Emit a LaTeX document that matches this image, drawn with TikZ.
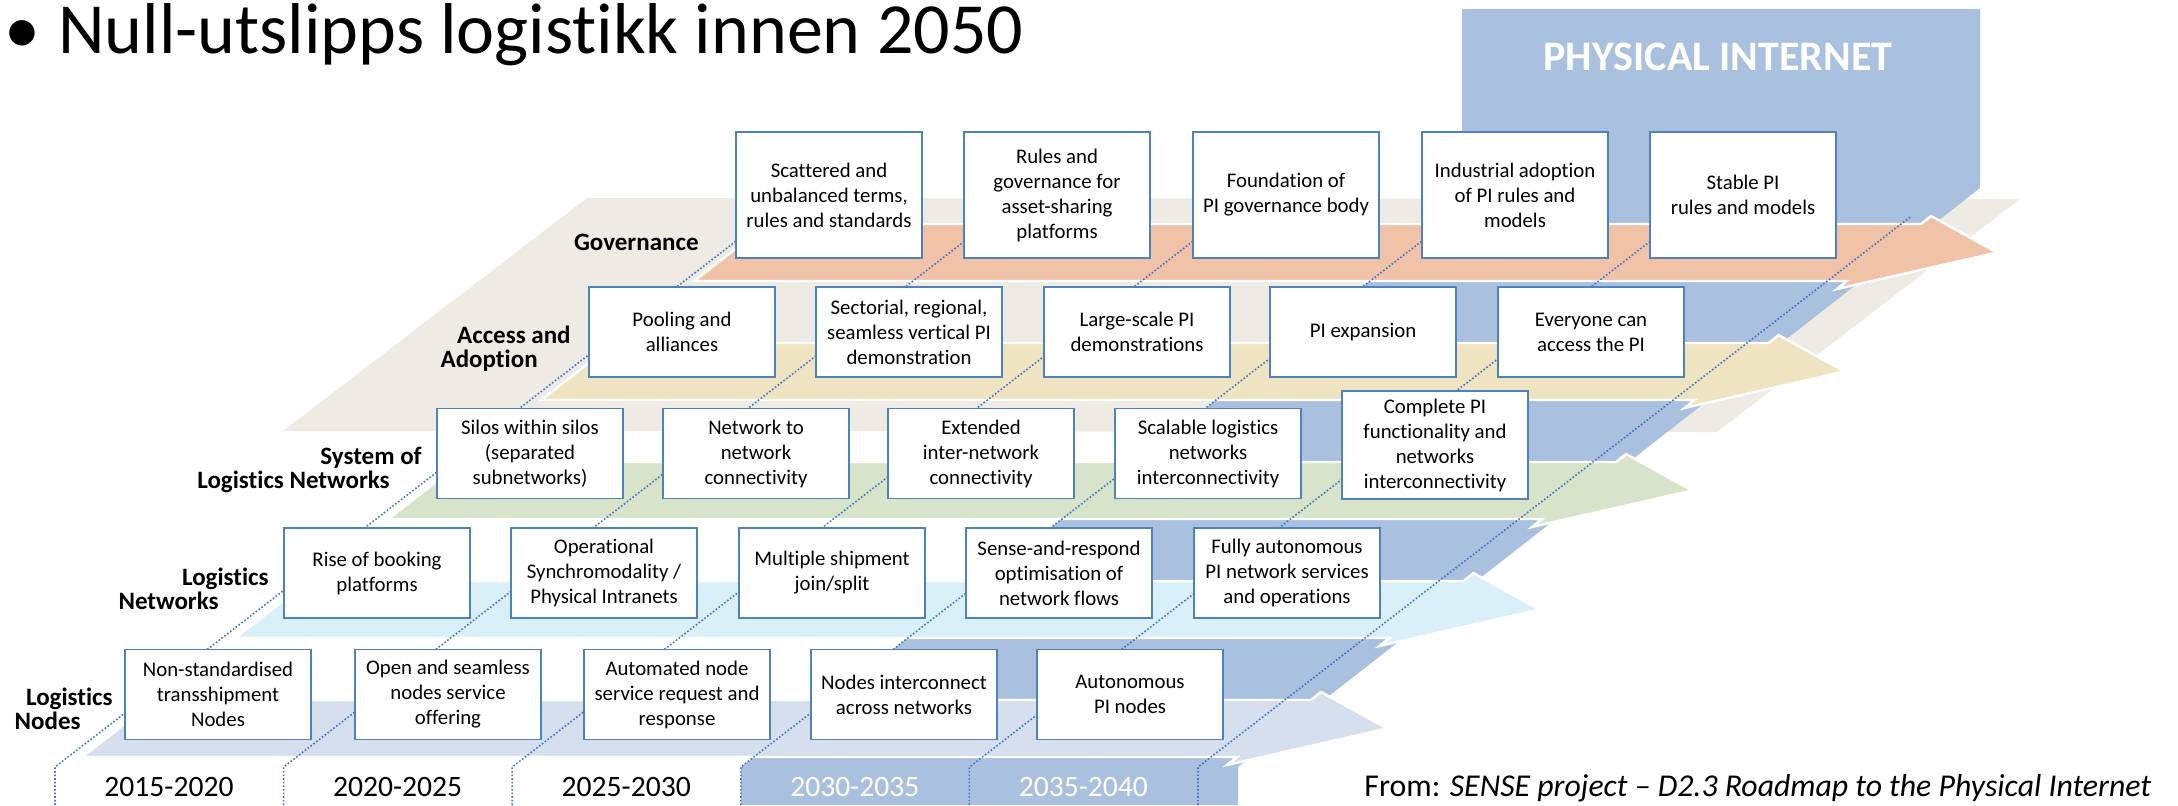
\documentclass[tikz,border=0pt]{standalone}
\usepackage{fontspec}
\setmainfont{Carlito}[Ligatures=NoCommon]
\definecolor{pibluecol}{HTML}{A9C0DE}
\definecolor{planecol}{HTML}{EDEBE3}
\definecolor{govcol}{HTML}{F0C2A7}
\definecolor{acccol}{HTML}{EEE4C1}
\definecolor{syscol}{HTML}{D7E4C9}
\definecolor{netcol}{HTML}{DAF0F8}
\definecolor{nodecol}{HTML}{D5DFEE}
\definecolor{boxcol}{HTML}{4F81BD}
\definecolor{dotcol}{HTML}{4472C4}
\newcommand{\rdboxfont}{\fontsize{10.4}{12.5}\selectfont}
\newcommand{\rdlabelfont}{\fontsize{12.5}{12}\selectfont\bfseries}
\newcommand{\rdyearfont}{\fontsize{14.8}{17}\selectfont}
\tikzset{%
  pibox/.style={draw=boxcol, line width=0.75pt, fill=white, align=center,
    minimum width=93pt, minimum height=45pt, inner sep=1pt, font=\rdboxfont},
  layerlabel/.style={font=\rdlabelfont, align=right, inner sep=0pt, anchor=east},
  yearlabel/.style={font=\rdyearfont, inner sep=0pt},
  sepline/.style={dotcol, densely dotted, line width=0.8pt},
}

\begin{document}
\begin{tikzpicture}[x=0.5pt,y=-0.5pt]
\useasboundingbox (0,0) rectangle (2178,805);
\node[anchor=base west, inner sep=0pt, font=\fontsize{36}{40}\selectfont] (title) at (4,53) {\makebox[27pt][l]{•}Null-utslipps logistikk innen 2050};
% grey plane and the physical internet column
\path[fill=planecol] (587,198) -- (2020,199) -- (1717,432) -- (283,431) -- cycle;
\path[fill=pibluecol] (741,805) -- (741,767) -- (1462,210) -- (1462,9) -- (1980,9) -- (1980,188) -- (1238,767) -- (1238,805) -- cycle;
\node[font=\fontsize{21}{25}\selectfont\bfseries, text=white] (pi) at (1718,57) {PHYSICAL INTERNET};
% layer arrows, front layer first
\foreach \k/\col in {0/nodecol,1/netcol,2/syscol,3/acccol,4/govcol}{
  \pgfmathsetmacro{\yb}{700-119*\k}
  \pgfmathsetmacro{\xl}{82+153*\k}
  \pgfmathsetmacro{\xb}{1311+152.5*\k}
  \path[fill=\col, draw=white, line width=1.2pt] ({\xl+74},\yb) -- (\xb,\yb) -- ({\xb+10},{\yb-8})
    -- ({\xb+76},{\yb+28.5}) -- ({\xb-84},{\yb+65}) -- ({\xb-74},{\yb+57}) -- (\xl,{\yb+57}) -- cycle;
}
% dotted column lines
\foreach \i in {0,...,5}
  \draw[sepline] ({55+228.6*\i},805) -- ({55+228.6*\i},767) -- ({55+228.6*\i+713.5},216);
\foreach \t/\c [count=\i from 0] in {2015-2020/black,2020-2025/black,2025-2030/black,2030-2035/white,2035-2040/white}
  \node[yearlabel, text=\c] (yr\i) at ({169+228.6*\i},787) {\t};
% layer names
\node[layerlabel] (govlabel) at (699,242) {Governance};
\node[layerlabel] (acclabel) at (538,349) {Access and\kern-16.5pt\\Adoption};
\node[layerlabel] (syslabel) at (390,469.5) {System of\kern-16pt\\Logistics Networks};
\node[layerlabel] (netlabel) at (219,588.5) {Logistics\kern-25pt\\Networks};
\node[layerlabel] (nodelabel) at (81,708.5) {Logistics\kern-16pt\\Nodes};
% governance
\node[pibox, minimum height=63pt] (g1) at (829,195) {Scattered and\\unbalanced terms,\\rules and standards};
\node[pibox, minimum height=63pt] (g2) at (1057,195) {Rules and\\governance for\\asset-sharing\\platforms};
\node[pibox, minimum height=63pt] (g3) at (1286,195) {Foundation of\\PI governance body};
\node[pibox, minimum height=63pt] (g4) at (1515,195) {Industrial adoption\\of PI rules and\\models};
\node[pibox, minimum height=63pt] (g5) at (1743,195) {Stable PI\\rules and models};
% access and adoption
\node[pibox] (a1) at (682,332) {Pooling and\\alliances};
\node[pibox] (a2) at (909,332) {Sectorial, regional,\\seamless vertical PI\\demonstration};
\node[pibox] (a3) at (1137,332) {Large-scale PI\\demonstrations};
\node[pibox] (a4) at (1363,332) {PI expansion};
\node[pibox] (a5) at (1591,332) {Everyone can\\access the PI};
% system of logistics networks
\node[pibox] (s1) at (530,453.5) {Silos within silos\\(separated\\subnetworks)};
\node[pibox] (s2) at (756,453.5) {Network to\\network\\connectivity};
\node[pibox] (s3) at (981,453.5) {Extended\\inter-network\\connectivity};
\node[pibox] (s4) at (1208,453.5) {Scalable logistics\\networks\\interconnectivity};
\node[pibox, minimum height=54pt] (s5) at (1435,445) {Complete PI\\functionality and\\networks\\interconnectivity};
% logistics networks
\node[pibox] (w1) at (377,573) {Rise of booking\\platforms};
\node[pibox] (w2) at (604,573) {Operational\\Synchromodality /\\Physical Intranets};
\node[pibox] (w3) at (832,573) {Multiple shipment\\join/split};
\node[pibox] (w4) at (1059,573) {Sense-and-respond\\optimisation of\\network flows};
\node[pibox] (w5) at (1287,573) {Fully autonomous\\PI network services\\and operations};
% logistics nodes
\node[pibox] (n1) at (218,694.5) {Non-standardised\\transshipment\\Nodes};
\node[pibox] (n2) at (448,694.5) {Open and seamless\\nodes service\\offering};
\node[pibox] (n3) at (677,694.5) {Automated node\\service request and\\response};
\node[pibox] (n4) at (904,694.5) {Nodes interconnect\\across networks};
\node[pibox] (n5) at (1130,694.5) {Autonomous\\PI nodes};
\node[anchor=west, inner sep=0pt, font=\fontsize{15.9}{18}\selectfont] (source) at (1364,788) {From: \textit{SENSE project – D2.3 Roadmap to the Physical Internet}};
\end{tikzpicture}
\end{document}
